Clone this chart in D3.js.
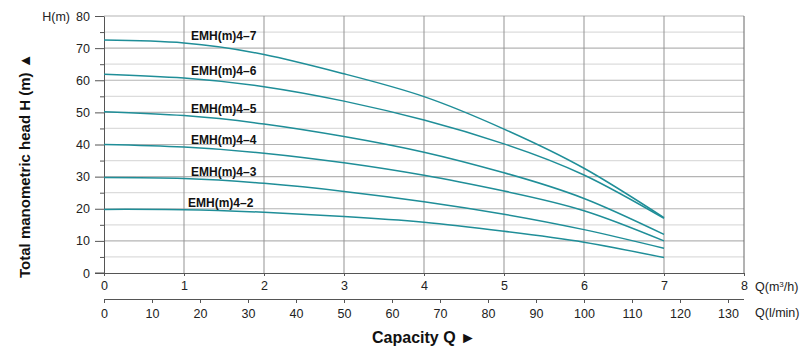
<!DOCTYPE html>
<html>
<head>
<meta charset="utf-8">
<script src="https://cdn.jsdelivr.net/npm/d3@7"></script>
<style>
  body { margin: 0; background: #fff; }
  svg { display: block; font-family: Arial, "Liberation Sans", sans-serif; }
</style>
</head>
<body>
<svg id="chart" width="800" height="353"></svg>
<script>
// flow points (m3/h) where the curves were read
const flowQ = [0, 1, 2, 3, 4, 5, 6, 7];

// head (m) for each pump model
const models = ["EMH(m)4–7", "EMH(m)4–6", "EMH(m)4–5", "EMH(m)4–4", "EMH(m)4–3", "EMH(m)4–2"];
const head47 = [72.5, 71.6, 68.0, 62.0, 54.9, 44.8, 32.6, 17.2];
const head46 = [61.9, 60.7, 58.0, 53.5, 47.6, 40.2, 30.5, 17.0];
const head45 = [50.2, 49.0, 46.4, 42.5, 37.6, 31.2, 23.2, 12.0];
const head44 = [40.0, 39.2, 37.3, 34.3, 30.4, 25.5, 19.4, 10.0];
const head43 = [29.7, 29.4, 27.9, 25.4, 22.2, 18.3, 13.5, 7.7];
const head42 = [19.8, 19.7, 18.9, 17.6, 15.8, 13.0, 9.6, 4.8];

// tick labels
const hTicks = [0, 10, 20, 30, 40, 50, 60, 70, 80];
const qTicks = [0, 1, 2, 3, 4, 5, 6, 7, 8];
const lminTicks = [0, 10, 20, 30, 40, 50, 60, 70, 80, 90, 100, 110, 120, 130];

const heads = [head47, head46, head45, head44, head43, head42];

const svg = d3.select("#chart");
const plotL = 104, plotR = 744, plotT = 16, plotB = 273;

const x = d3.scaleLinear().domain([0, 8]).range([plotL, plotR]);
const xl = d3.scaleLinear().domain([0, 8 * 1000 / 60]).range([plotL, plotR]);
const y = d3.scaleLinear().domain([0, 80]).range([plotB, plotT]);

const grid = svg.append("g");

// horizontal grid, every 5 m
d3.range(5, 81, 5).forEach(v => {
  grid.append("line")
    .attr("x1", plotL).attr("x2", plotR)
    .attr("y1", y(v)).attr("y2", y(v))
    .attr("stroke", v % 10 === 0 ? "#b4b4b4" : "#dcdcdc")
    .attr("stroke-width", 1.2);
});

// vertical grid at each m3/h
d3.range(1, 9).forEach(v => {
  grid.append("line")
    .attr("x1", x(v)).attr("x2", x(v))
    .attr("y1", plotT).attr("y2", plotB)
    .attr("stroke", v === 8 ? "#666" : "#939393")
    .attr("stroke-width", 1);
});

// left axis
svg.append("g")
  .attr("transform", `translate(${plotL},0)`)
  .call(d3.axisLeft(y).tickValues(hTicks).tickSize(9).tickPadding(5).tickSizeOuter(0));
svg.append("g")
  .attr("transform", `translate(${plotL},0)`)
  .call(d3.axisLeft(y).tickValues(d3.range(5, 80, 10)).tickSize(4).tickFormat("").tickSizeOuter(0))
  .call(g => g.select(".domain").remove());

// bottom axis m3/h
svg.append("g")
  .attr("transform", `translate(0,${plotB})`)
  .call(d3.axisBottom(x).tickValues(qTicks).tickSize(3).tickPadding(5).tickSizeOuter(0));
svg.append("line")
  .attr("x1", plotL - 9).attr("x2", plotL)
  .attr("y1", plotB).attr("y2", plotB)
  .attr("stroke", "#555");

// bottom axis l/min
const lAxis = svg.append("g")
  .attr("transform", `translate(0,299)`)
  .call(d3.axisBottom(xl).tickValues(lminTicks).tickSize(4).tickPadding(6).tickSizeOuter(0));
lAxis.select(".domain").attr("d", `M${plotL},0.5H${plotR}`);

svg.selectAll(".tick text").attr("font-size", 12.5).attr("fill", "#222")
  .attr("font-family", "Arial, 'Liberation Sans', sans-serif");
svg.selectAll(".domain, .tick line").attr("stroke", "#555");

// axis unit labels
svg.append("text").attr("x", 70).attr("y", 20.5).attr("text-anchor", "end")
  .attr("font-size", 12.5).attr("fill", "#222").text("H(m)");

const qm = svg.append("text").attr("x", 755).attr("y", 291)
  .attr("font-size", 12.5).attr("fill", "#222");
qm.append("tspan").text("Q(m");
qm.append("tspan").attr("dy", -4).attr("font-size", 8).text("3");
qm.append("tspan").attr("dy", 4).text("/h)");

svg.append("text").attr("x", 755).attr("y", 317)
  .attr("font-size", 12.5).attr("fill", "#222").text("Q(l/min)");

// titles
svg.append("text").attr("x", 372).attr("y", 343)
  .attr("font-size", 16).attr("font-weight", "bold").attr("fill", "#111")
  .text("Capacity Q  \u25BA");

svg.append("text")
  .attr("transform", "translate(30,278) rotate(-90)")
  .attr("font-size", 15).attr("font-weight", "bold").attr("fill", "#111")
  .text("Total manometric head H (m)  \u25B2");

// curves
const line = d3.line()
  .x((d, i) => x(flowQ[i]))
  .y(d => y(d))
  .curve(d3.curveNatural);

svg.append("g").selectAll("path")
  .data(heads)
  .join("path")
  .attr("d", line)
  .attr("fill", "none")
  .attr("stroke", "#1f8e98")
  .attr("stroke-width", 1.5);

// model labels
svg.append("g").selectAll("text")
  .data(models)
  .join("text")
  .attr("x", (d, i) => i === 5 ? 188 : 191)
  .attr("y", (d, i) => y(heads[i][1]) - 3)
  .attr("font-size", 12)
  .attr("font-weight", "bold")
  .attr("fill", "#111")
  .text(d => d);
</script>
</body>
</html>
